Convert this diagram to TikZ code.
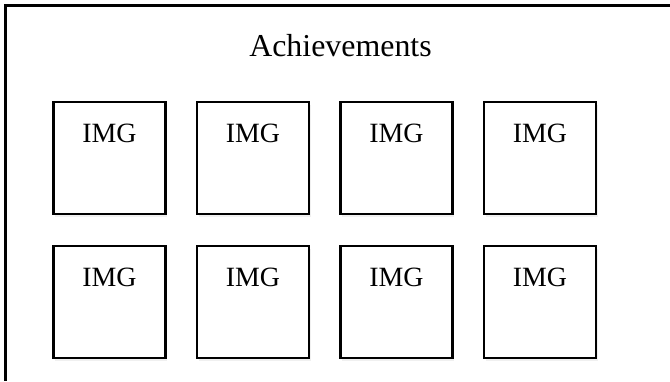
\documentclass[tikz,border=0pt]{standalone}
\usepackage{fontspec}
\setmainfont{Liberation Serif}
\usetikzlibrary{positioning,shadows}

\tikzset{
  frameline/.style={line width=2.2bp, black},
  imgbox/.style={draw, line width=2.1bp, fill=white, minimum size=112bp, inner sep=0pt,
    drop shadow={opacity=0.12, shadow xshift=1.5bp, shadow yshift=-2.5bp}},
  imgtext/.style={anchor=base, font=\fontsize{28}{30}\selectfont},
  titletext/.style={anchor=base, font=\fontsize{32}{34}\selectfont}
}

\begin{document}
\begin{tikzpicture}[x=1bp, y=-1bp]
  \useasboundingbox (0,0) rectangle (670,381);
  % Open frame (top and left edges only)
  \draw[frameline] (670,5.5) -- (5.5,5.5) -- (5.5,381);
  % Title
  \node[titletext] (title) at (340.5,56) {Achievements};
  % Image placeholders (rows)
  \foreach \r/\y in {1/158, 2/302} {
    % columns
    \foreach \c/\x in {1/109.5, 2/253, 3/396.5, 4/540} {
      \node[imgbox] (img-\r-\c) at (\x,\y) {};
      \node[imgtext] (lbl-\r-\c) at (\x,\y-15.5) {IMG};
    }
  }
\end{tikzpicture}
\end{document}
